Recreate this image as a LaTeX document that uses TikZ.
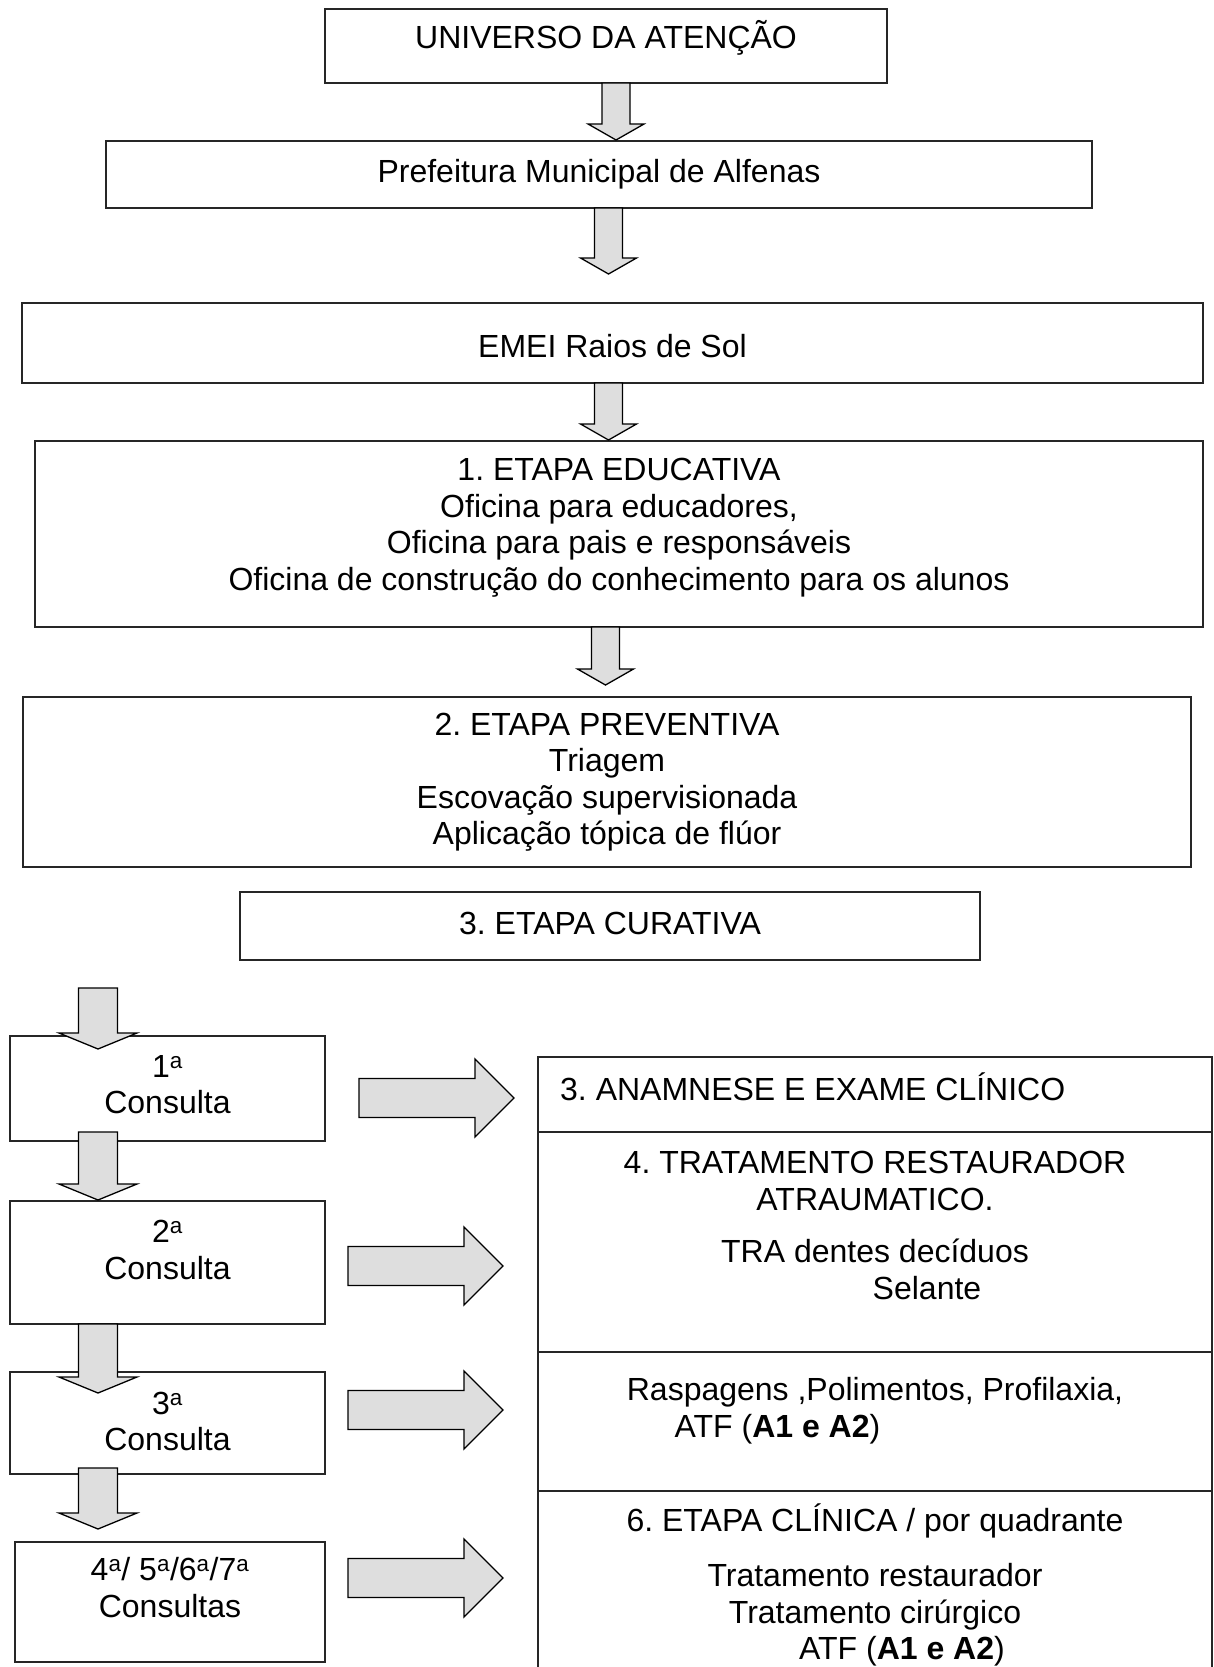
\documentclass[tikz,border=0pt]{standalone}
\usepackage{fontspec}
\setmainfont{Liberation Sans}
\usetikzlibrary{positioning, calc}

\frenchspacing
\newcommand{\ordn}[1]{#1\textsuperscript{a}}

\tikzset{
  box/.style={draw=black!85, line width=1.5pt, inner sep=0pt, outer sep=0pt},
  txt/.style={align=center, inner sep=0pt, font=\fontsize{32}{36.5}\selectfont},
  blockarr/.style={draw=black, line width=1.3pt, fill=black!13},
  pics/darr/.style args={#1/#2}{code={
    \draw[blockarr] (-#2,0) -- (-#2,#1-16) -- (-2*#2,#1-16) -- (0,#1)
      -- (2*#2,#1-16) -- (#2,#1-16) -- (#2,0) -- cycle;}},
  pics/rarr/.style={code={
    \draw[blockarr] (0,-19.5) -- (116,-19.5) -- (116,-39) -- (155,0)
      -- (116,39) -- (116,19.5) -- (0,19.5) -- cycle;}}
}

\begin{document}
\begin{tikzpicture}[x=1pt, y=-1pt]
  \useasboundingbox (0,0) rectangle (1213,1667);

  % main column
  \node[box, minimum width=562, minimum height=74] (univ) at (606,46) {};
  \node[box, minimum width=986, minimum height=67] (pref) at (599,174.5) {};
  \node[box, minimum width=1181, minimum height=80] (emei) at (612.5,343) {};
  \node[box, minimum width=1168, minimum height=186] (educ) at (619,534) {};
  \node[box, minimum width=1168, minimum height=170] (prev) at (607,782) {};
  \node[box, minimum width=740, minimum height=68] (curat) at (610,926) {};

  \node[txt] (univ-t) at ($(univ)+(0,-8)$) {UNIVERSO DA ATENÇÃO};
  \node[txt] (pref-t) at (pref) {Prefeitura Municipal de Alfenas};
  \node[txt] (emei-t) at ($(emei)+(0,3)$) {EMEI Raios de Sol};
  \node[txt] (educ-t) at ($(educ)+(0,-6.5)$) {1. ETAPA EDUCATIVA\\Oficina para educadores,\\Oficina para pais e responsáveis\\Oficina de construção do conhecimento para os alunos};
  \node[txt] (prev-t) at (prev) {2. ETAPA PREVENTIVA\\Triagem\\Escovação supervisionada\\Aplicação tópica de flúor};
  \node[txt] (curat-t) at ($(curat)+(0,-3)$) {3. ETAPA CURATIVA};

  % consultas
  \node[box, minimum width=315, minimum height=105] (c1) at (167.5,1088.5) {};
  \node[box, minimum width=315, minimum height=123] (c2) at (167.5,1262.5) {};
  \node[box, minimum width=315, minimum height=102] (c3) at (167.5,1423) {};
  \node[box, minimum width=310, minimum height=120] (c4) at (170,1602) {};
  \node[txt] (c1-t) at ($(c1)+(0,-4)$) {\ordn{1}\\Consulta};
  \node[txt] (c2-t) at ($(c2)+(0,-12.5)$) {\ordn{2}\\Consulta};
  \node[txt] (c3-t) at ($(c3)+(0,-1.5)$) {\ordn{3}\\Consulta};
  \node[txt] (c4-t) at ($(c4)+(0,-14.5)$) {\ordn{4}/ \ordn{5}/\ordn{6}/\ordn{7}\\Consultas};

  % right column
  \node[box, minimum width=674, minimum height=75] (rb1) at (875,1094.5) {};
  \node[box, minimum width=674, minimum height=220, below=0pt of rb1] (rb2) {};
  \node[box, minimum width=674, minimum height=139, below=0pt of rb2] (rb3) {};
  \node[box, minimum width=674, minimum height=210, below=0pt of rb3] (rb4) {};

  \node[txt, anchor=west] (rb1-t) at ($(rb1.west)+(22,-7.5)$) {3. ANAMNESE E EXAME CLÍNICO};
  \node[txt] (rb2-t) at ($(rb2)+(0,-16.5)$) {4. TRATAMENTO RESTAURADOR\\ATRAUMATICO.\\[16pt]TRA dentes decíduos\\\hspace*{104pt}Selante};
  \node[txt] (rb3-t) at ($(rb3)+(0,-11)$) {Raspagens ,Polimentos, Profilaxia,\\ATF (\textbf{A1 e A2})\hspace*{195pt}};
  \node[txt] (rb4-t) at ($(rb4.north)+(0,94)$) {6. ETAPA CLÍNICA / por quadrante\\[18.5pt]Tratamento restaurador\\Tratamento cirúrgico\\\hspace*{54pt}ATF (\textbf{A1 e A2})};

  % block arrows
  \foreach \a/\x/\l in {univ/616/57, pref/608.5/66, emei/608.5/57, educ/605.5/58}
    \pic at (\a.south -| \x,0) {darr=\l/14};
  \pic at ($(curat.south -| 98,0)+(0,28)$) {darr=61/19.5};
  \foreach \a/\d/\l in {c1/-9/68, c2/0/69, c3/-6/61}
    \pic at ($(\a.south -| 98,0)+(0,\d)$) {darr=\l/19.5};
  \foreach \a/\dx/\dy in {c1/34/9.5, c2/23/3.5, c3/23/-13, c4/23/-24}
    \pic at ($(\a.east)+(\dx,\dy)$) {rarr};
\end{tikzpicture}
\end{document}
